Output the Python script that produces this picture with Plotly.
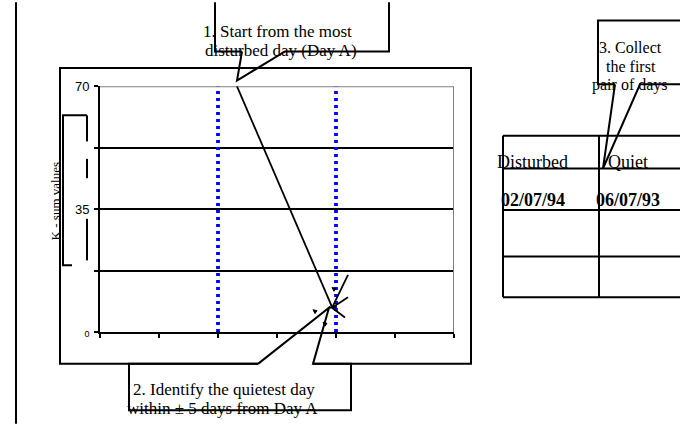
import plotly.graph_objects as go

W, H = 680, 426

# chart values
day_ticks = [0, 1, 2, 3, 4, 5, 6]
k_ticks = [0, 17.5, 35, 52.5, 70]
k_tick_labels = ["<span style='font-size:9px'>0</span>", "", "35", "", "70"]
marked_days = [2, 4]
y_title = "K - sum values"

step1_lines = ["1. Start from the most", "disturbed day (Day A)"]
step2_lines = ["2. Identify the quietest day", "within ± 5 days from Day A"]
step3_lines = ["3. Collect", "the first", "pair of days"]
table_headers = ["Disturbed", "Quiet"]
first_pair = ["02/07/94", "06/07/93"]


def px(x):
    return x / W


def py(y):
    return 1 - y / H


def path(points, close=False):
    s = "M " + " L ".join(f"{px(x):.5f},{py(y):.5f}" for x, y in points)
    return s + (" Z" if close else "")


shapes = []


def draw(points, width=2, color="black", close=False, fill=None):
    d = dict(type="path", xref="paper", yref="paper", path=path(points, close),
             line=dict(color=color, width=width))
    if fill:
        d["fillcolor"] = fill
    shapes.append(d)


fig = go.Figure()

for d in marked_days:
    fig.add_trace(go.Scatter(x=[d, d], y=[0, 70], mode="lines", showlegend=False,
                             line=dict(color="#0000ff", width=3.8, dash="3px,4px"),
                             hoverinfo="skip", cliponaxis=False))

# plot area top/right border (grey)
shapes.append(dict(type="line", xref="x", yref="y", x0=0, x1=6, y0=70, y1=70,
                   line=dict(color="#808080", width=2)))
shapes.append(dict(type="line", xref="x", yref="y", x0=6, x1=6, y0=0, y1=70,
                   line=dict(color="#808080", width=2)))

# page left edge
draw([(16, -5), (16, 431)], width=2)
# chart frame (bottom broken by callout 2)
draw([(258, 369), (60, 369), (60, 63), (471, 63), (471, 369), (313, 369)], width=2)
# y bracket
draw([(87, 112), (63, 112), (63, 267), (72, 267)], width=2)
for a, b in [(112, 139), (157, 177), (219, 262)]:
    draw([(87, a), (87, b)], width=2)

# callout 1
draw([(242, 46), (215, 46), (215, -5)], width=2)
draw([(389, -5), (389, 46), (285, 46), (237, 76), (242, 46)], width=2)
draw([(237, 82), (332, 310)], width=1.8)

# callout 2
draw([(258, 369), (129, 369), (129, 417), (351, 417), (351, 369), (313, 369),
      (329, 311), (258, 369)], width=2)

# arrows marking the quiet day
draw([(332, 311), (348, 277)], width=1.8)
draw([(332, 311), (348, 300)], width=1.8)
draw([(332, 311), (345, 321)], width=1.8)
draw([(329, 311), (337, 310)], width=1.8)
for cx, cy in [(334, 292), (315, 315), (325, 328)]:
    draw([(cx - 2, cy - 2), (cx + 2, cy - 1), (cx, cy + 2)], width=1, close=True, fill="black")

# callout 3
draw([(615, 80), (598, 80), (598, 14), (690, 14)], width=2)
draw([(690, 80), (640, 80), (603, 167), (615, 80)], width=2)

# table
for yy in [133, 167, 210, 258, 300]:
    draw([(503, yy), (690, yy)], width=2)
for xx in [503, 599]:
    draw([(xx, 133), (xx, 300)], width=2)

serif = "Liberation Serif, Times New Roman, serif"
ann = []


def text(t, x, y, size=17, bold=False, angle=0):
    ann.append(dict(text=f"<b>{t}</b>" if bold else t, x=px(x), y=py(y),
                    xref="paper", yref="paper", showarrow=False, textangle=angle,
                    xanchor="center", yanchor="middle",
                    font=dict(family=serif, size=size, color="black")))


for t, (x, y) in zip(step1_lines, [(277, 25), (281, 45)]):
    text(t, x, y)
for t, (x, y) in zip(step2_lines, [(224, 396), (222, 415)]):
    text(t, x, y)
for t, (x, y) in zip(step3_lines, [(630, 42), (631, 62), (630, 81)]):
    text(t, x, y, size=16)
for t, x in zip(table_headers, [532, 628]):
    text(t, x, 160, size=18)
for t, x in zip(first_pair, [533, 628]):
    text(t, x, 200, size=18, bold=True)
text(y_title, 55, 201, size=13, angle=-90)

fig.update_layout(
    width=W, height=H, autosize=False,
    margin=dict(l=0, r=0, t=0, b=0),
    paper_bgcolor="white", plot_bgcolor="white",
    shapes=shapes, annotations=ann,
    xaxis=dict(domain=[px(100), px(454)], range=[0, 6], tickvals=day_ticks,
               showticklabels=False, ticks="outside", ticklen=4, tickwidth=1.5,
               tickcolor="black", showline=True, linecolor="black", linewidth=2,
               showgrid=False, zeroline=False, fixedrange=True),
    yaxis=dict(domain=[py(336), py(82)], range=[0, 70], tickvals=k_ticks,
               ticktext=k_tick_labels, ticks="outside", ticklen=4, tickwidth=1.5,
               tickcolor="black", showline=True, linecolor="black", linewidth=2,
               showgrid=True, gridcolor="black", gridwidth=1.5, zeroline=False,
               ticklabelstandoff=2, fixedrange=True,
               tickfont=dict(family="Liberation Sans, Arial, sans-serif", size=13, color="black")),
)

# drop the page's default body margin so the figure sits at the window corner
fig.write_html("out.html", config={"displayModeBar": False},
               post_script="document.body.style.margin='0';")
